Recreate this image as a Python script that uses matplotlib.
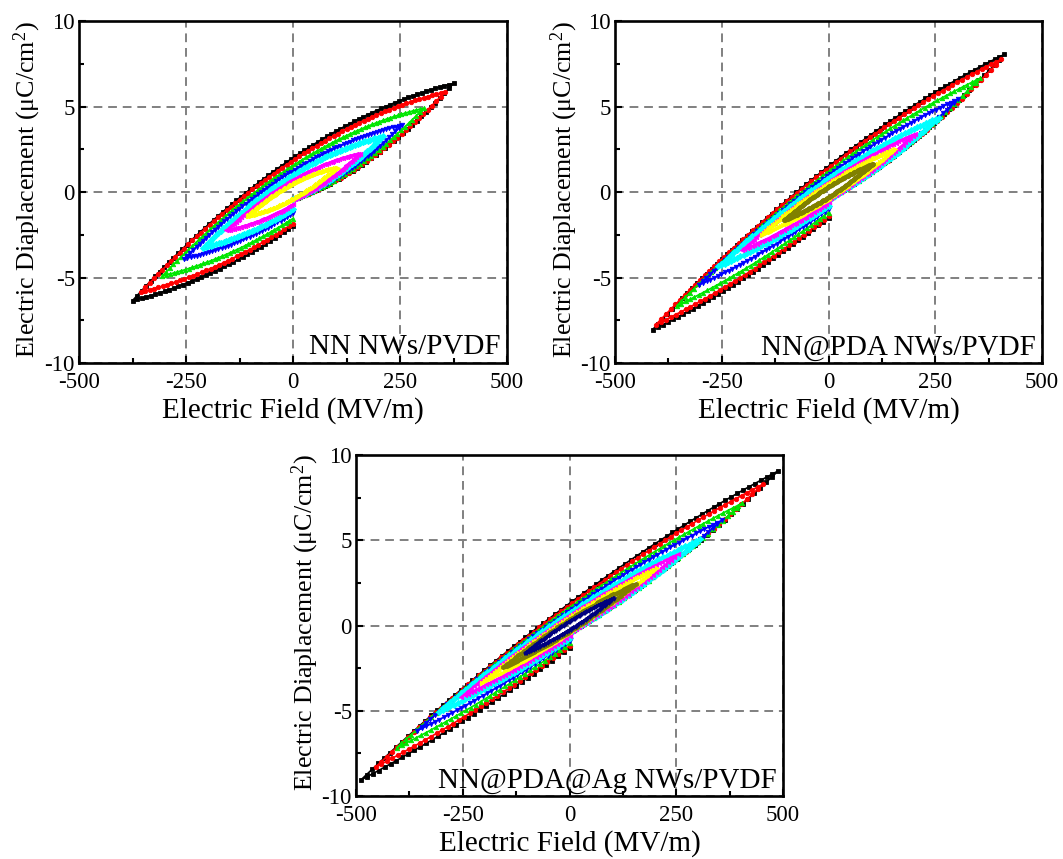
import numpy as np
import matplotlib
matplotlib.use("Agg")
import matplotlib.pyplot as plt

# ---------------------------------------------------------------------------
# Valeurs : champ max (MV/m), déplacement max et
# déplacement rémanent (µC/cm²) de chaque boucle, de la plus grande à la plus petite
# ---------------------------------------------------------------------------
samples = ["NN NWs/PVDF", "NN@PDA NWs/PVDF", "NN@PDA@Ag NWs/PVDF"]

e_max_nn = [375, 355, 305, 254, 210, 156, 105]
d_max_nn = [6.35, 5.85, 4.9, 3.9, 3.25, 2.25, 1.42]
d_rem_nn = [2.0, 1.85, 1.55, 1.25, 1.0, 0.72, 0.45]

e_max_pda = [412, 404, 355, 303, 258, 203, 156, 104]
d_max_pda = [8.05, 7.75, 6.65, 5.43, 4.35, 3.42, 2.5, 1.65]
d_rem_pda = [1.5, 1.42, 1.2, 1.0, 0.8, 0.6, 0.45, 0.3]

e_max_ag = [489, 454, 405, 356, 305, 253, 204, 155, 104]
d_max_ag = [9.07, 8.3, 7.18, 6.16, 5.05, 4.17, 3.35, 2.45, 1.62]
d_rem_ag = [1.3, 1.2, 1.05, 0.9, 0.75, 0.6, 0.45, 0.35, 0.25]

d_start = -0.43   # point de départ de la première branche, à E = 0

couleurs = ["#000000", "#FF0000", "#00E600", "#0000FF", "#00FFFF",
            "#FF00FF", "#FFFF00", "#808000", "#000080"]
marqueurs = ["s", "o", "^", "v", "D", "<", ">", "h", "*"]

x_ticks = [-500, -250, 0, 250, 500]
x_labels = ["-500", "-250", "0", "250", "500"]
y_ticks = [-10, -5, 0, 5, 10]
y_labels = ["-10", "-5", "0", "5", "10"]

plt.rcParams["font.family"] = ["Liberation Serif", "DejaVu Serif"]
plt.rcParams["mathtext.fontset"] = "custom"
plt.rcParams["mathtext.rm"] = "Liberation Serif"
plt.rcParams["mathtext.it"] = "Liberation Serif:italic"


def boucle(e_max, d_max, d_rem, n=36):
    """Trajet E -> Emax -> -Emax -> 0 d'une boucle D-E."""
    d0 = -min(-d_start, d_rem)
    u1 = np.linspace(0, 1, n)
    d1 = d_max * u1 - d_rem * (1 - u1 ** 2) + (d_rem + d0) * (1 - u1) ** 2
    u2 = np.linspace(1, -1, 2 * n)[1:]
    d2 = d_max * u2 + d_rem * (1 - u2 ** 2)
    u3 = np.linspace(-1, 0, n)[1:]
    d3 = d_max * u3 - d_rem * (1 - u3 ** 2)
    u = np.concatenate([u1, u2, u3])
    d = np.concatenate([d1, d2, d3])
    return u * e_max, d


def tracer(ax, e_list, d_list, r_list, titre):
    for i, (em, dm, dr) in enumerate(zip(e_list, d_list, r_list)):
        e, d = boucle(em, dm, dr)
        ax.plot(e, d, color=couleurs[i], lw=1.2, marker=marqueurs[i],
                ms=3.2, mec=couleurs[i], mew=0.6, zorder=3 + i)

    ax.set_xlim(-500, 500)
    ax.set_ylim(-10, 10)
    ax.set_xticks(x_ticks)
    ax.set_xticklabels(x_labels)
    ax.set_yticks(y_ticks)
    ax.set_yticklabels(y_labels)
    ax.set_xticks([-375, -125, 125, 375], minor=True)
    ax.set_yticks([-7.5, -2.5, 2.5, 7.5], minor=True)
    ax.tick_params(which="both", direction="in", width=1.5, labelsize=16.5)
    ax.tick_params(which="major", length=5)
    ax.tick_params(which="minor", length=3.5)
    ax.tick_params(axis="x", pad=6.5)
    ax.tick_params(axis="y", pad=3)
    for s in ax.spines.values():
        s.set_linewidth(1.9)

    ax.set_axisbelow(True)
    ax.grid(True, which="major", color="#808080", lw=1.4,
            linestyle=(0, (4.5, 3.0)))

    ax.set_xlabel("Electric Field (MV/m)", fontsize=21)
    ax.set_ylabel("Electric Diaplacement (μC/cm$^{2}$)", fontsize=18.7)
    ax.xaxis.set_label_coords(0.5, -0.099)
    ax.yaxis.set_label_coords(-0.083, 0.508)

    ax.text(0.985, 0.025, titre, transform=ax.transAxes, ha="right",
            va="baseline", fontsize=21, zorder=20)


fig = plt.figure(figsize=(10.63, 8.59), dpi=100)
W, H = 1063, 859

ax1 = fig.add_axes([79 / W, 1 - 363 / H, 428 / W, 342 / H])
ax2 = fig.add_axes([615 / W, 1 - 363 / H, 427 / W, 342 / H])
ax3 = fig.add_axes([356 / W, 1 - 796 / H, 427 / W, 341 / H])

tracer(ax1, e_max_nn, d_max_nn, d_rem_nn, samples[0])
tracer(ax2, e_max_pda, d_max_pda, d_rem_pda, samples[1])
tracer(ax3, e_max_ag, d_max_ag, d_rem_ag, samples[2])

fig.savefig("out.png", dpi=100)
